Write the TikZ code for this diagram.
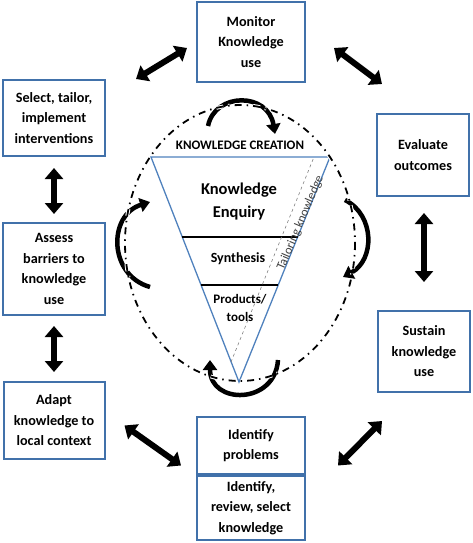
\documentclass[tikz,border=0pt]{standalone}
\usepackage{fontspec}
\setmainfont{Carlito}
\usetikzlibrary{arrows.meta,calc}
\definecolor{boxblue}{RGB}{65,113,170}
\definecolor{triblue}{RGB}{79,129,189}
\begin{document}
\begin{tikzpicture}[x=1pt,y=-1pt,
  box/.style={draw=boxblue,line width=2pt,fill=white,align=center,inner sep=1pt,
    font=\bfseries\fontsize{14.2}{20.5}\selectfont},
  dbl/.style={line width=6pt,{Triangle[length=11pt,width=18pt]}-{Triangle[length=11pt,width=18pt]}},
  cyc/.style={line width=4.5pt,-{Triangle[length=10pt,width=14pt]}},
  lbl/.style={font=\bfseries\fontsize{#1}{18}\selectfont,align=center,inner sep=0pt},
  ddot/.style={dash pattern=on 7pt off 5pt on 1.5pt off 5pt}
]
\useasboundingbox (0,0) rectangle (472,543);

% boxes
\node[box,minimum width=108pt,minimum height=80pt] (monitor) at (251,42) {Monitor\\Knowledge\\use};
\node[box,minimum width=102pt,minimum height=76pt] (select) at (54,118) {Select, tailor,\\implement\\interventions};
\node[box,minimum width=92pt,minimum height=82pt] (evaluate) at (423,155) {Evaluate\\outcomes};
\node[box,minimum width=102pt,minimum height=92pt] (assess) at (54,269) {Assess\\barriers to\\knowledge\\use};
\node[box,minimum width=92pt,minimum height=81pt] (sustain) at (424,351.5) {Sustain\\knowledge\\use};
\node[box,minimum width=101pt,minimum height=77pt] (adapt) at (54,420.5) {Adapt\\knowledge to\\local context};
\node[box,minimum width=108pt,minimum height=57pt] (identify) at (251,445.5) {Identify\\problems};
\node[box,minimum width=108pt,minimum height=64pt] (review) at (251,508) {Identify,\\review, select\\knowledge};

% double arrows
\draw[dbl] ($(select.north east)+(30,0)$) -- ($(monitor.west)+(-9,6)$);
\draw[dbl] ($(monitor.east)+(28,6)$) -- ($(evaluate.north west)+(6,-29)$);
\draw[dbl] ($(select.south)+(0,11)$) -- ($(assess.north)+(0,-8)$);
\draw[dbl] ($(assess.south)+(0,10)$) -- ($(adapt.north)+(0,-9)$);
\draw[dbl] ($(evaluate.south)+(1,16)$) -- ($(sustain.north)+(0,-28)$);
\draw[dbl] ($(adapt.east)+(19,5)$) -- ($(identify.west)+(-15,20)$);
\draw[dbl] ($(identify.east)+(32,20)$) -- ($(sustain.south west)+(5,28)$);

% inverted triangle
\coordinate (tl) at (151,157);
\coordinate (tr) at (330,157);
\coordinate (ap) at (239,382);
\draw[triblue,line width=1.3pt] (tl) -- (tr) -- (ap) -- cycle;
\draw[line width=1.3pt] (182,237) -- (298,237);
\draw[line width=1.3pt] (201,285) -- (278,285);
\coordinate (tk1) at (231,362);
\coordinate (tk2) at (314,157);
\draw[gray,dashed,line width=0.6pt] (tk1) -- (tk2);
\node[rotate=67,font=\fontsize{12.5}{13}\selectfont,text=black!75,inner sep=0pt] (tailor) at (300.5,223) {Tailoring knowledge};

% texts
\node[lbl=13] (kc) at (240,145) {KNOWLEDGE CREATION};
\node[font=\bfseries\fontsize{16.5}{23}\selectfont,align=center,inner sep=0pt] (enq) at (239,202) {Knowledge\\Enquiry};
\node[lbl=14] (syn) at (238,259) {Synthesis};
\node[font=\bfseries\fontsize{13}{18}\selectfont,align=center,inner sep=0pt] (prod) at (240,308) {Products/\\tools};

% cycle arrows
\draw[cyc] (208,126) .. controls (215,92) and (268,92) .. (275,134);
\draw[cyc] (345,200) .. controls (375,215) and (375,260) .. (343,277);
\draw[cyc] (278,360) .. controls (275,405) and (210,405) .. (210,360);
\draw[cyc] (150,287) .. controls (108,275) and (108,215) .. (150,202);

% dash-dot ellipse
\draw[white,line width=3.8pt,ddot] (240,243) ellipse [x radius=115, y radius=138];
\draw[black,line width=1.8pt,ddot] (240,243) ellipse [x radius=115, y radius=138];
\end{tikzpicture}
\end{document}
